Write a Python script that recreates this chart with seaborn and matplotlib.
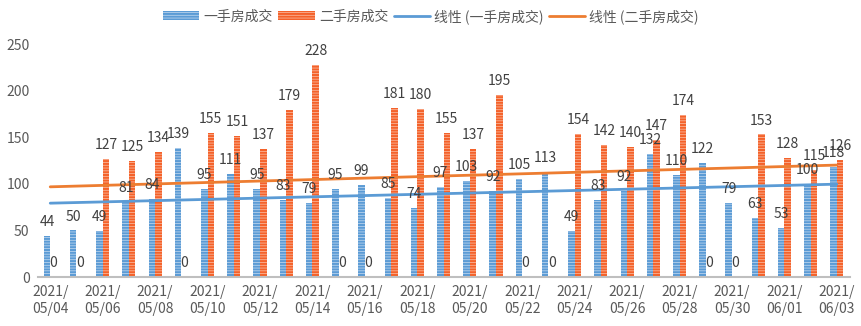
import numpy as np
import pandas as pd
import matplotlib
matplotlib.use("Agg")
import matplotlib.pyplot as plt
from matplotlib.patches import Patch
from matplotlib.lines import Line2D
import seaborn as sns

dates = ["2021/\n05/04", "2021/\n05/05", "2021/\n05/06", "2021/\n05/07", "2021/\n05/08",
         "2021/\n05/09", "2021/\n05/10", "2021/\n05/11", "2021/\n05/12", "2021/\n05/13",
         "2021/\n05/14", "2021/\n05/15", "2021/\n05/16", "2021/\n05/17", "2021/\n05/18",
         "2021/\n05/19", "2021/\n05/20", "2021/\n05/21", "2021/\n05/22", "2021/\n05/23",
         "2021/\n05/24", "2021/\n05/25", "2021/\n05/26", "2021/\n05/27", "2021/\n05/28",
         "2021/\n05/29", "2021/\n05/30", "2021/\n05/31", "2021/\n06/01", "2021/\n06/02",
         "2021/\n06/03"]
first_hand = [44, 50, 49, 81, 84, 139, 95, 111, 95, 83, 79, 95, 99, 85, 74, 97, 103, 92,
              105, 113, 49, 83, 92, 132, 110, 122, 79, 63, 53, 100, 118]
second_hand = [0, 0, 127, 125, 134, 0, 155, 151, 137, 179, 228, 0, 0, 181, 180, 155, 137,
               195, 0, 0, 154, 142, 140, 147, 174, 0, 0, 153, 128, 115, 126]
series_names = ["一手房成交", "二手房成交"]
trend_names = ["线性 (一手房成交)", "线性 (二手房成交)"]

bar_colors = ["#5B9BD5", "#F4622A"]
hatch_colors = ["#C9DDF1", "#FBC3AC"]
line_colors = ["#5B9BD5", "#ED7D31"]
text_color = "#595959"

sns.set_theme(style="white")
plt.rcParams["font.family"] = ["Noto Sans CJK SC", "DejaVu Sans"]
plt.rcParams["hatch.linewidth"] = 0.5

df = pd.DataFrame({
    "date": dates * 2,
    "value": first_hand + second_hand,
    "type": [series_names[0]] * len(dates) + [series_names[1]] * len(dates),
})

fig = plt.figure(figsize=(8.62, 3.26), dpi=100)
ax = fig.add_axes([0.044, 0.150, 0.942, 0.715])

sns.barplot(data=df, x="date", y="value", hue="type", order=dates,
            hue_order=series_names, palette=bar_colors, width=0.5,
            gap=0, ax=ax, legend=False, saturation=1)

HATCH = "------"
for i, cont in enumerate(ax.containers):
    for bar in cont:
        bar.set_hatch(HATCH)
        bar.set_edgecolor(hatch_colors[i])
        bar.set_linewidth(0)
    ax.bar_label(cont, labels=[str(v) for v in (first_hand, second_hand)[i]],
                 padding=5, fontsize=10, color="#404040")

xs = np.arange(len(dates))
for vals, c in zip((first_hand, second_hand), line_colors):
    sns.regplot(x=xs, y=np.array(vals), scatter=False, ci=None, ax=ax,
                line_kws={"color": c, "lw": 2})

ax.set_xlim(-0.47, 30.5)
ax.set_ylim(0, 250)
ax.set_yticks([0, 50, 100, 150, 200, 250])
ax.set_xticks(xs[::2])
ax.set_xticklabels(dates[::2])
ax.set_xlabel("")
ax.set_ylabel("")
ax.tick_params(axis="both", length=0, labelsize=10, colors=text_color, pad=6)
for s in ["top", "right", "left"]:
    ax.spines[s].set_visible(False)
ax.spines["bottom"].set_color("#BFBFBF")
ax.spines["bottom"].set_linewidth(1.5)

handles = [
    Patch(facecolor=bar_colors[0], edgecolor=hatch_colors[0], hatch=HATCH, lw=0),
    Patch(facecolor=bar_colors[1], edgecolor=hatch_colors[1], hatch=HATCH, lw=0),
    Line2D([0], [0], color=line_colors[0], lw=2),
    Line2D([0], [0], color=line_colors[1], lw=2),
]
fig.legend(handles, series_names + trend_names, loc="center", bbox_to_anchor=(0.5, 0.95),
           ncol=4, frameon=False, fontsize=10, labelcolor=text_color,
           handlelength=2.6, handleheight=0.6, columnspacing=0.4, handletextpad=0.3)

fig.savefig("out.png", dpi=100)
